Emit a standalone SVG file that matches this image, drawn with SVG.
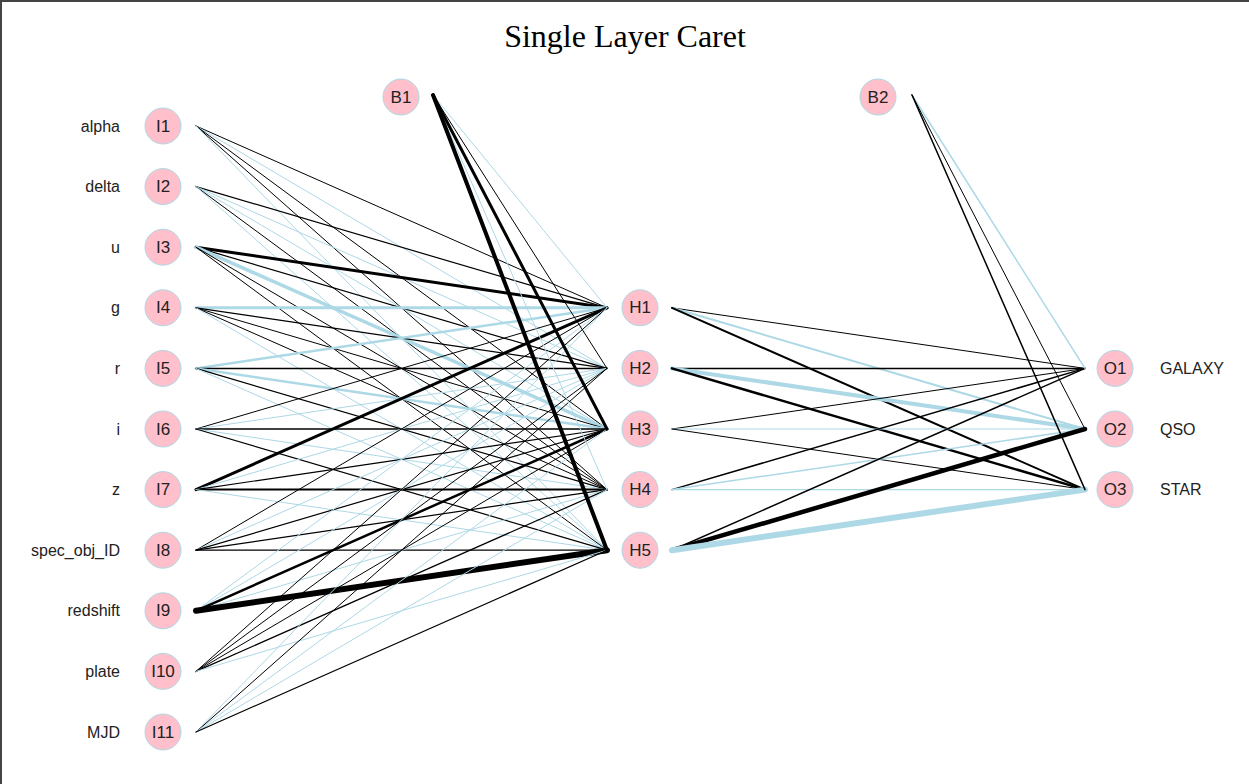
<svg xmlns="http://www.w3.org/2000/svg" width="1249" height="784" viewBox="0 0 1249 784">
  <style>
    .p { stroke: #000000; fill: none; stroke-linecap: round; }
    .n { stroke: #ADD8E6; fill: none; stroke-linecap: round; }
    .node circle { fill: #FFC0CB; stroke: #ADD8E6; stroke-width: 1; }
    .node text { font-family: "Liberation Sans", Arial, sans-serif; font-size: 17px; fill: #222222; text-anchor: middle; dominant-baseline: central; }
    .lab { font-family: "Liberation Sans", Arial, sans-serif; font-size: 16px; fill: #222222; dominant-baseline: central; }
    .lab.l { text-anchor: end; }
    .title { font-family: "Liberation Serif", "Times New Roman", serif; font-size: 32px; fill: #000000; text-anchor: middle; }
  </style>
  <rect x="0" y="0" width="1249" height="784" fill="#ffffff"/>
  <!-- frame -->
  <line x1="0" y1="1" x2="1249" y2="1" stroke="#444444" stroke-width="2"/>
  <line x1="1" y1="0" x2="1" y2="784" stroke="#444444" stroke-width="2"/>

  <text class="title" x="625" y="47">Single Layer Caret</text>

  <g id="connectors">
    <!-- input layer to hidden layer -->
    <!-- I1 y=126 -->
    <line class="p" x1="196" y1="126" x2="607" y2="307.8" stroke-width="1"/>
    <line class="n" x1="196" y1="126" x2="607" y2="368.4" stroke-width="1"/>
    <line class="p" x1="196" y1="126" x2="607" y2="429" stroke-width="1"/>
    <line class="p" x1="196" y1="126" x2="607" y2="489.6" stroke-width="1"/>
    <line class="n" x1="196" y1="126" x2="607" y2="550.2" stroke-width="1"/>
    <!-- I2 y=186.6 -->
    <line class="p" x1="196" y1="186.6" x2="607" y2="307.8" stroke-width="1.2"/>
    <line class="n" x1="196" y1="186.6" x2="607" y2="368.4" stroke-width="1"/>
    <line class="n" x1="196" y1="186.6" x2="607" y2="429" stroke-width="1"/>
    <line class="p" x1="196" y1="186.6" x2="607" y2="489.6" stroke-width="1"/>
    <line class="n" x1="196" y1="186.6" x2="607" y2="550.2" stroke-width="1"/>
    <!-- I3 y=247.2 -->
    <line class="p" x1="196" y1="247.2" x2="607" y2="307.8" stroke-width="3"/>
    <line class="p" x1="196" y1="247.2" x2="607" y2="368.4" stroke-width="1.2"/>
    <line class="n" x1="196" y1="247.2" x2="607" y2="429" stroke-width="3.5"/>
    <line class="p" x1="196" y1="247.2" x2="607" y2="489.6" stroke-width="1"/>
    <line class="p" x1="196" y1="247.2" x2="607" y2="550.2" stroke-width="1"/>
    <!-- I4 y=307.8 -->
    <line class="n" x1="196" y1="307.8" x2="607" y2="307.8" stroke-width="3"/>
    <line class="p" x1="196" y1="307.8" x2="607" y2="368.4" stroke-width="1.2"/>
    <line class="p" x1="196" y1="307.8" x2="607" y2="429" stroke-width="1"/>
    <line class="p" x1="196" y1="307.8" x2="607" y2="489.6" stroke-width="1"/>
    <line class="n" x1="196" y1="307.8" x2="607" y2="550.2" stroke-width="1"/>
    <!-- I5 y=368.4 -->
    <line class="n" x1="196" y1="368.4" x2="607" y2="307.8" stroke-width="2.5"/>
    <line class="p" x1="196" y1="368.4" x2="607" y2="368.4" stroke-width="1.5"/>
    <line class="n" x1="196" y1="368.4" x2="607" y2="429" stroke-width="2.5"/>
    <line class="p" x1="196" y1="368.4" x2="607" y2="489.6" stroke-width="1.2"/>
    <line class="n" x1="196" y1="368.4" x2="607" y2="550.2" stroke-width="1"/>
    <!-- I6 y=429 -->
    <line class="p" x1="196" y1="429" x2="607" y2="307.8" stroke-width="1"/>
    <line class="n" x1="196" y1="429" x2="607" y2="368.4" stroke-width="1"/>
    <line class="p" x1="196" y1="429" x2="607" y2="429" stroke-width="1.5"/>
    <line class="n" x1="196" y1="429" x2="607" y2="489.6" stroke-width="1"/>
    <line class="p" x1="196" y1="429" x2="607" y2="550.2" stroke-width="1.2"/>
    <!-- I7 y=489.6 -->
    <line class="p" x1="196" y1="489.6" x2="607" y2="307.8" stroke-width="3"/>
    <line class="n" x1="196" y1="489.6" x2="607" y2="368.4" stroke-width="1"/>
    <line class="p" x1="196" y1="489.6" x2="607" y2="429" stroke-width="1.2"/>
    <line class="p" x1="196" y1="489.6" x2="607" y2="489.6" stroke-width="2"/>
    <line class="n" x1="196" y1="489.6" x2="607" y2="550.2" stroke-width="1"/>
    <!-- I8 y=550.2 -->
    <line class="p" x1="196" y1="550.2" x2="607" y2="307.8" stroke-width="1"/>
    <line class="n" x1="196" y1="550.2" x2="607" y2="368.4" stroke-width="1"/>
    <line class="p" x1="196" y1="550.2" x2="607" y2="429" stroke-width="1.2"/>
    <line class="p" x1="196" y1="550.2" x2="607" y2="489.6" stroke-width="1.2"/>
    <line class="p" x1="196" y1="550.2" x2="607" y2="550.2" stroke-width="1.2"/>
    <!-- I9 y=610.8 -->
    <line class="n" x1="196" y1="610.8" x2="607" y2="307.8" stroke-width="1"/>
    <line class="n" x1="196" y1="610.8" x2="607" y2="368.4" stroke-width="1"/>
    <line class="p" x1="196" y1="610.8" x2="607" y2="429" stroke-width="2.5"/>
    <line class="n" x1="196" y1="610.8" x2="607" y2="489.6" stroke-width="1"/>
    <line class="p" x1="196" y1="610.8" x2="607" y2="550.2" stroke-width="6"/>
    <!-- I10 y=671.4 -->
    <line class="p" x1="196" y1="671.4" x2="607" y2="307.8" stroke-width="1"/>
    <line class="p" x1="196" y1="671.4" x2="607" y2="368.4" stroke-width="1"/>
    <line class="p" x1="196" y1="671.4" x2="607" y2="429" stroke-width="1"/>
    <line class="p" x1="196" y1="671.4" x2="607" y2="489.6" stroke-width="1.2"/>
    <line class="n" x1="196" y1="671.4" x2="607" y2="550.2" stroke-width="1"/>
    <!-- I11 y=732 -->
    <line class="n" x1="196" y1="732" x2="607" y2="307.8" stroke-width="1"/>
    <line class="p" x1="196" y1="732" x2="607" y2="368.4" stroke-width="1"/>
    <line class="n" x1="196" y1="732" x2="607" y2="429" stroke-width="1"/>
    <line class="n" x1="196" y1="732" x2="607" y2="489.6" stroke-width="1"/>
    <line class="p" x1="196" y1="732" x2="607" y2="550.2" stroke-width="1.2"/>

    <!-- bias 1 to hidden layer -->
    <line class="n" x1="433" y1="95" x2="607" y2="307.8" stroke-width="1"/>
    <line class="p" x1="433" y1="95" x2="607" y2="368.4" stroke-width="1"/>
    <line class="p" x1="433" y1="95" x2="607" y2="429" stroke-width="3"/>
    <line class="n" x1="433" y1="95" x2="607" y2="489.6" stroke-width="1"/>
    <line class="p" x1="433" y1="95" x2="607" y2="550.2" stroke-width="4"/>

    <!-- hidden layer to output layer -->
    <line class="p" x1="672" y1="307.8" x2="1085" y2="368.4" stroke-width="1"/>
    <line class="n" x1="672" y1="307.8" x2="1085" y2="429" stroke-width="2"/>
    <line class="p" x1="672" y1="307.8" x2="1085" y2="489.6" stroke-width="2"/>
    <line class="p" x1="672" y1="368.4" x2="1085" y2="368.4" stroke-width="1.5"/>
    <line class="n" x1="672" y1="368.4" x2="1085" y2="429" stroke-width="4"/>
    <line class="p" x1="672" y1="368.4" x2="1085" y2="489.6" stroke-width="2.5"/>
    <line class="p" x1="672" y1="429" x2="1085" y2="368.4" stroke-width="1"/>
    <line class="n" x1="672" y1="429" x2="1085" y2="429" stroke-width="1.2"/>
    <line class="p" x1="672" y1="429" x2="1085" y2="489.6" stroke-width="1"/>
    <line class="p" x1="672" y1="489.6" x2="1085" y2="368.4" stroke-width="1.5"/>
    <line class="n" x1="672" y1="489.6" x2="1085" y2="429" stroke-width="1.5"/>
    <line class="n" x1="672" y1="489.6" x2="1085" y2="489.6" stroke-width="1.2"/>
    <line class="p" x1="672" y1="550.2" x2="1085" y2="368.4" stroke-width="1.5"/>
    <line class="p" x1="672" y1="550.2" x2="1085" y2="429" stroke-width="4.5"/>
    <line class="n" x1="672" y1="550.2" x2="1085" y2="489.6" stroke-width="6"/>

    <!-- bias 2 to output layer -->
    <line class="n" x1="912" y1="95" x2="1085" y2="368.4" stroke-width="1.5"/>
    <line class="p" x1="912" y1="95" x2="1085" y2="429" stroke-width="1"/>
    <line class="p" x1="912" y1="95" x2="1085" y2="489.6" stroke-width="1.5"/>
  </g>

  <!-- input nodes -->
  <g id="I1" class="node"><circle cx="163" cy="126" r="18"/><text x="163" y="126">I1</text></g>
  <g id="I2" class="node"><circle cx="163" cy="186.6" r="18"/><text x="163" y="186.6">I2</text></g>
  <g id="I3" class="node"><circle cx="163" cy="247.2" r="18"/><text x="163" y="247.2">I3</text></g>
  <g id="I4" class="node"><circle cx="163" cy="307.8" r="18"/><text x="163" y="307.8">I4</text></g>
  <g id="I5" class="node"><circle cx="163" cy="368.4" r="18"/><text x="163" y="368.4">I5</text></g>
  <g id="I6" class="node"><circle cx="163" cy="429" r="18"/><text x="163" y="429">I6</text></g>
  <g id="I7" class="node"><circle cx="163" cy="489.6" r="18"/><text x="163" y="489.6">I7</text></g>
  <g id="I8" class="node"><circle cx="163" cy="550.2" r="18"/><text x="163" y="550.2">I8</text></g>
  <g id="I9" class="node"><circle cx="163" cy="610.8" r="18"/><text x="163" y="610.8">I9</text></g>
  <g id="I10" class="node"><circle cx="163" cy="671.4" r="18"/><text x="163" y="671.4">I10</text></g>
  <g id="I11" class="node"><circle cx="163" cy="732" r="18"/><text x="163" y="732">I11</text></g>

  <!-- bias nodes -->
  <g id="B1" class="node"><circle cx="401" cy="97" r="18"/><text x="401" y="97">B1</text></g>
  <g id="B2" class="node"><circle cx="878" cy="97" r="18"/><text x="878" y="97">B2</text></g>

  <!-- hidden nodes -->
  <g id="H1" class="node"><circle cx="640" cy="307.8" r="18"/><text x="640" y="307.8">H1</text></g>
  <g id="H2" class="node"><circle cx="640" cy="368.4" r="18"/><text x="640" y="368.4">H2</text></g>
  <g id="H3" class="node"><circle cx="640" cy="429" r="18"/><text x="640" y="429">H3</text></g>
  <g id="H4" class="node"><circle cx="640" cy="489.6" r="18"/><text x="640" y="489.6">H4</text></g>
  <g id="H5" class="node"><circle cx="640" cy="550.2" r="18"/><text x="640" y="550.2">H5</text></g>

  <!-- output nodes -->
  <g id="O1" class="node"><circle cx="1115" cy="368.4" r="18"/><text x="1115" y="368.4">O1</text></g>
  <g id="O2" class="node"><circle cx="1115" cy="429" r="18"/><text x="1115" y="429">O2</text></g>
  <g id="O3" class="node"><circle cx="1115" cy="489.6" r="18"/><text x="1115" y="489.6">O3</text></g>

  <!-- variable labels -->
  <g id="input-labels">
    <text class="lab l" x="120" y="126">alpha</text>
    <text class="lab l" x="120" y="186.6">delta</text>
    <text class="lab l" x="120" y="247.2">u</text>
    <text class="lab l" x="120" y="307.8">g</text>
    <text class="lab l" x="120" y="368.4">r</text>
    <text class="lab l" x="120" y="429">i</text>
    <text class="lab l" x="120" y="489.6">z</text>
    <text class="lab l" x="120" y="550.2">spec_obj_ID</text>
    <text class="lab l" x="120" y="610.8">redshift</text>
    <text class="lab l" x="120" y="671.4">plate</text>
    <text class="lab l" x="120" y="732">MJD</text>
  </g>
  <g id="output-labels">
    <text class="lab" x="1160" y="368.4">GALAXY</text>
    <text class="lab" x="1160" y="429">QSO</text>
    <text class="lab" x="1160" y="489.6">STAR</text>
  </g>
</svg>
